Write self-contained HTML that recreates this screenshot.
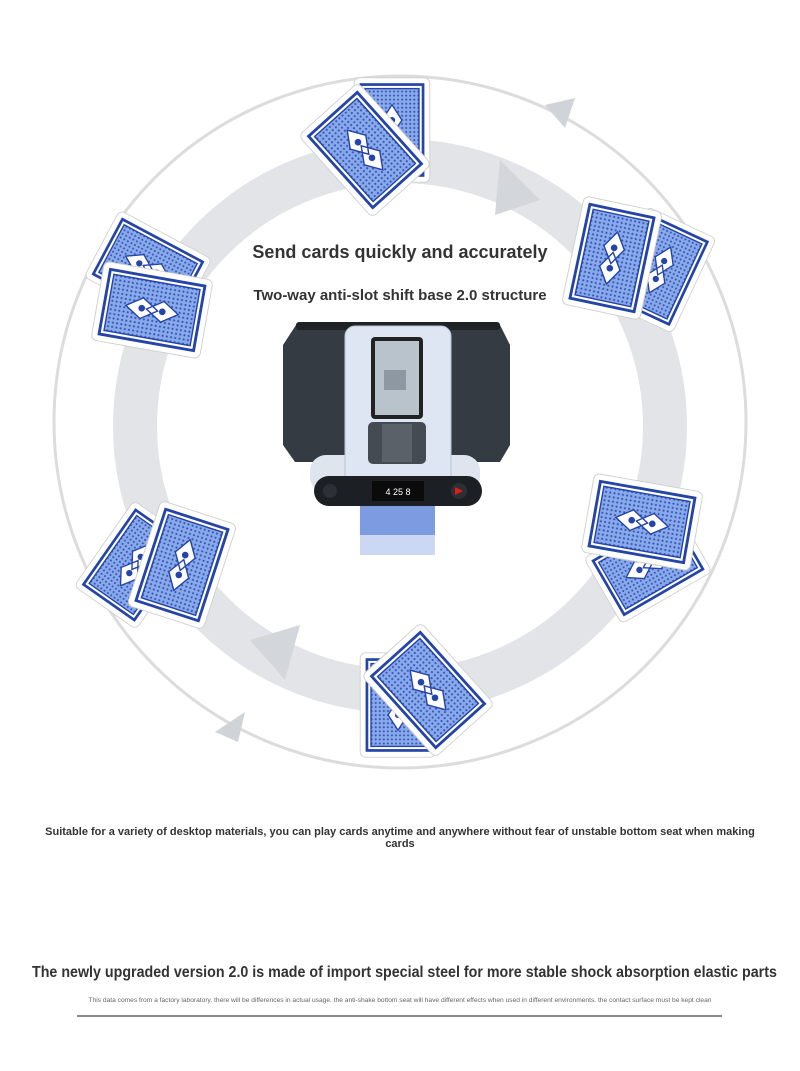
<!DOCTYPE html>
<html><head><meta charset="utf-8"><style>
body{margin:0;background:#fff;width:800px;height:1071px;overflow:hidden;position:relative;font-family:"Liberation Sans",sans-serif;color:#333}
.t{position:absolute;left:0;width:800px;text-align:center;font-weight:bold;white-space:nowrap}
</style></head><body>
<svg width="800" height="1071" style="position:absolute;left:0;top:0">
<defs>
<pattern id="dots" width="4.5" height="4.5" patternUnits="userSpaceOnUse">
<rect width="4.5" height="4.5" fill="#8aa9ea"/><circle cx="2.25" cy="2.25" r="1.1" fill="#2f55b8"/>
</pattern>
<g id="card">
<rect x="-42" y="-58" width="84" height="116" rx="6" fill="#fff" stroke="#d0d0d0"/>
<rect x="-36" y="-52" width="72" height="104" fill="#2444a8"/>
<rect x="-33" y="-49" width="66" height="98" fill="#fff"/>
<rect x="-30" y="-46" width="60" height="92" fill="url(#dots)" stroke="#2444a8" stroke-width="1.5"/>
<path d="M0,-28 L11,-11 L0,6 L-11,-11Z M0,-6 L11,11 L0,28 L-11,11Z" fill="#fff" stroke="#2444a8" stroke-width="1.5"/>
<circle cx="0" cy="-11" r="3.5" fill="#2444a8"/><circle cx="0" cy="11" r="3.5" fill="#2444a8"/>
</g>
</defs>
<circle cx="400" cy="422" r="346" fill="none" stroke="#dcdcdc" stroke-width="3"/>
<polygon points="545,105 575,98 565,128" fill="#d0d3d8"/>
<polygon points="215,732 245,712 238,742" fill="#d0d3d8"/>
<circle cx="400" cy="426" r="265" fill="none" stroke="#e2e4e8" stroke-width="44"/>
<polygon points="500,160 540,200 495,215" fill="#d3d6db"/>
<polygon points="285,680 250,640 300,625" fill="#d3d6db"/>
<!-- cards -->
<use href="#card" transform="translate(392,130) rotate(0) scale(0.9)"/>
<use href="#card" transform="translate(365,150) rotate(-42) scale(0.95)"/>
<use href="#card" transform="translate(660,270) rotate(25) scale(0.9)"/>
<use href="#card" transform="translate(612,258) rotate(12) scale(0.95)"/>
<use href="#card" transform="translate(148,268) rotate(-62) scale(0.9)"/>
<use href="#card" transform="translate(152,310) rotate(-80) scale(0.95)"/>
<use href="#card" transform="translate(648,565) rotate(60) scale(0.9)"/>
<use href="#card" transform="translate(642,522) rotate(-80) scale(0.95)"/>
<use href="#card" transform="translate(135,565) rotate(35) scale(0.9)"/>
<use href="#card" transform="translate(182,565) rotate(18) scale(0.95)"/>
<use href="#card" transform="translate(398,705) rotate(0) scale(0.9)"/>
<use href="#card" transform="translate(428,690) rotate(-42) scale(0.95)"/>
<!-- device -->
<rect x="360" y="500" width="75" height="55" fill="#7d9be0"/>
<rect x="360" y="535" width="75" height="22" fill="#fff" opacity="0.6"/>
<path d="M296,325 H500 L510,345 V445 L500,462 H295 L283,445 V345Z" fill="#353b43"/>
<rect x="296" y="322" width="204" height="8" rx="3" fill="#1f2328"/>
<rect x="310" y="455" width="170" height="38" rx="16" fill="#dfe5ee"/>
<rect x="345" y="326" width="106" height="160" rx="10" fill="#dde6f2" stroke="#b8c4d4"/>
<rect x="371" y="337" width="52" height="82" rx="4" fill="#222"/>
<rect x="375" y="341" width="44" height="74" fill="#b9c3cc"/>
<rect x="384" y="370" width="22" height="20" fill="#8e98a2"/>
<rect x="368" y="422" width="58" height="42" rx="5" fill="#454b52"/>
<rect x="382" y="424" width="30" height="38" fill="#5a6168"/>
<rect x="314" y="476" width="168" height="30" rx="15" fill="#1c1f23"/>
<rect x="372" y="481" width="52" height="20" fill="#0b0b0b"/>
<text x="398" y="495" font-size="9" fill="#fff" text-anchor="middle" font-family="Liberation Sans">4 25 8</text>
<circle cx="330" cy="491" r="7" fill="#2c3036"/>
<circle cx="459" cy="491" r="8" fill="#2c3036"/>
<polygon points="455,487 463,491 455,495" fill="#e01b1b"/>
<line x1="77" y1="1016" x2="722" y2="1016" stroke="#888" stroke-width="2"/>
</svg>
<div class="t" style="top:242px;font-size:18px">Send cards quickly and accurately</div>
<div class="t" style="top:287px;font-size:15px">Two-way anti-slot shift base 2.0 structure</div>
<div class="t" style="top:826px;font-size:11px;line-height:12px;white-space:normal;left:40px;width:720px">Suitable for a variety of desktop materials, you can play cards anytime and anywhere without fear of unstable bottom seat when making cards</div>
<div class="t" style="top:964px;font-size:15.5px;transform:scaleX(0.92)">The newly upgraded version 2.0 is made of import special steel for more stable shock absorption elastic parts</div>
<div class="t" style="top:997px;font-size:6.5px;font-weight:normal;color:#666;transform:scaleX(1.02)">This data comes from a factory laboratory. there will be differences in actual usage. the anti-shake bottom seat will have different effects when used in different environments. the contact surface must be kept clean</div>
</body></html>
